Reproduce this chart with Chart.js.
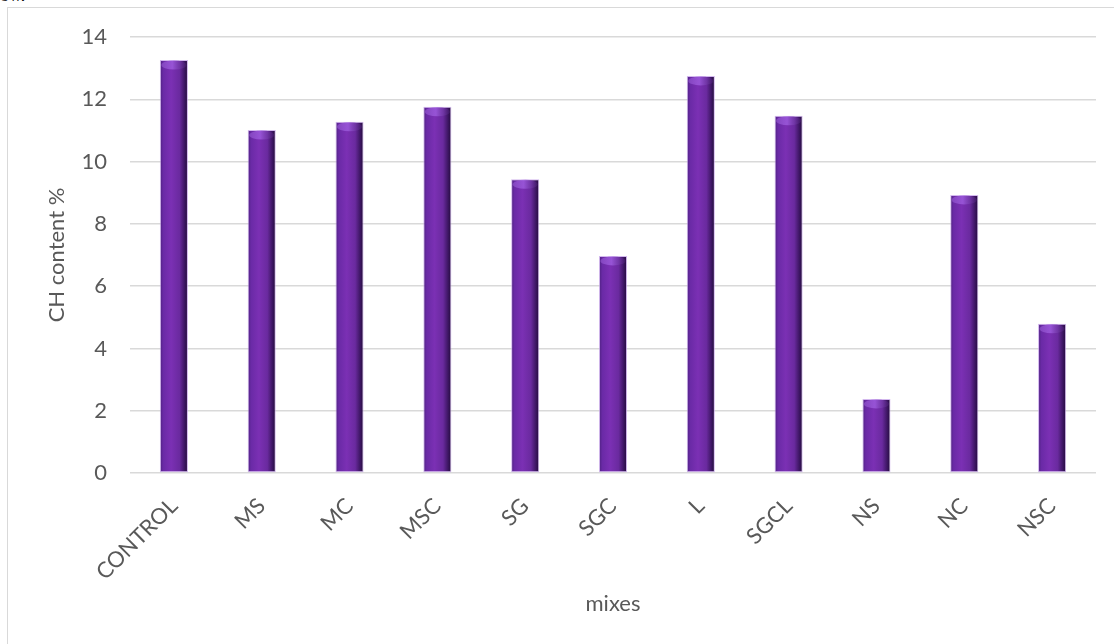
<!DOCTYPE html>
<html>
<head>
<meta charset="utf-8">
<script src="https://cdn.jsdelivr.net/npm/chart.js@4/dist/chart.umd.min.js"></script>
<style>
  html, body { margin: 0; padding: 0; background: #ffffff; overflow: hidden; }
  #page { position: relative; width: 1114px; height: 644px; overflow: hidden; }
  #clip { position: absolute; left: 0; top: -15px; font: 18px "Liberation Serif", serif; color: #000; }
  #frame { position: absolute; left: 7px; top: 7px; width: 1300px; height: 800px; border: 1.5px solid #d9d9d9; box-sizing: border-box; }
  #chart { position: absolute; left: 0; top: 0; }
</style>
</head>
<body>
<div id="page">
  <div id="clip">ow.</div>
  <div id="frame"></div>
  <canvas id="chart" width="1114" height="644"></canvas>
</div>
<script>
// Mixes and their CH content (%)
const mixes = ['CONTROL', 'MS', 'MC', 'MSC', 'SG', 'SGC', 'L', 'SGCL', 'NS', 'NC', 'NSC'];
const chContent = [13.26, 11.01, 11.28, 11.76, 9.43, 6.97, 12.75, 11.47, 2.38, 8.93, 4.79];

// Value axis
const yMin = 0;
const yMax = 14;
const yStep = 2;

const BAR_PCT = 0.32;
const FONT = 'Lato, "Noto Sans", sans-serif';
const TEXT = '#595959';
const GRID = '#d9d9d9';

// Cylinder-like shading across each bar
function barFill(c) {
  const chart = c.chart;
  if (!chart.chartArea || c.type !== 'data') return '#7030a0';
  const xs = chart.scales.x;
  const cx = xs.getPixelForValue(c.dataIndex);
  const half = xs.width / mixes.length * BAR_PCT / 2;
  const g = chart.ctx.createLinearGradient(cx - half, 0, cx + half, 0);
  g.addColorStop(0.0, '#4d2180');
  g.addColorStop(0.12, '#6a2aa6');
  g.addColorStop(0.4, '#7b30b4');
  g.addColorStop(0.7, '#6a2a9f');
  g.addColorStop(0.88, '#3d1663');
  g.addColorStop(1.0, '#220a3a');
  return g;
}

// Lighter rounded cap at the top of each bar
const capPlugin = {
  id: 'barCaps',
  afterDatasetsDraw(chart) {
    const ctx = chart.ctx;
    const meta = chart.getDatasetMeta(0);
    ctx.save();
    meta.data.forEach(bar => {
      const w = bar.width;
      const g = ctx.createLinearGradient(bar.x - w / 2, 0, bar.x + w / 2, 0);
      g.addColorStop(0, 'rgba(150,90,210,0.55)');
      g.addColorStop(0.45, 'rgba(160,95,225,0.75)');
      g.addColorStop(1, 'rgba(70,25,110,0.4)');
      ctx.fillStyle = g;
      ctx.beginPath();
      ctx.ellipse(bar.x, bar.y + 5, w / 2 - 1.5, 4.5, 0, 0, Math.PI * 2);
      ctx.fill();
    });
    ctx.restore();
  }
};

new Chart(document.getElementById('chart'), {
  type: 'bar',
  data: {
    labels: mixes,
    datasets: [{
      label: 'CH content %',
      data: chContent,
      backgroundColor: barFill,
      borderColor: 'rgba(196,160,232,0.75)',
      borderWidth: 1,
      borderSkipped: false,
      categoryPercentage: 1,
      barPercentage: BAR_PCT
    }]
  },
  options: {
    responsive: false,
    maintainAspectRatio: false,
    animation: false,
    layout: { padding: { left: 0, right: 18, top: 37, bottom: 0 } },
    plugins: {
      legend: { display: false },
      tooltip: { enabled: false }
    },
    scales: {
      x: {
        grid: { display: false },
        border: { display: false },
        ticks: {
          color: TEXT,
          font: { family: FONT, size: 22 },
          minRotation: 45,
          maxRotation: 45,
          padding: 12,
          autoSkip: false
        },
        title: {
          display: true,
          text: 'mixes',
          color: TEXT,
          font: { family: FONT, size: 22 },
          padding: { top: 0, bottom: 27 }
        },
        afterFit(scale) { scale.height = 171; }
      },
      y: {
        min: yMin,
        max: yMax,
        grid: { color: GRID, lineWidth: 1.5, drawTicks: false },
        border: { display: false },
        ticks: {
          stepSize: yStep,
          color: TEXT,
          font: { family: FONT, size: 22 },
          padding: 23
        },
        title: {
          display: true,
          text: 'CH content %',
          color: TEXT,
          font: { family: FONT, size: 22 },
          padding: { top: 44, bottom: 0 }
        },
        afterFit(scale) { scale.width = 130; }
      }
    }
  },
  plugins: [capPlugin]
});
</script>
</body>
</html>
